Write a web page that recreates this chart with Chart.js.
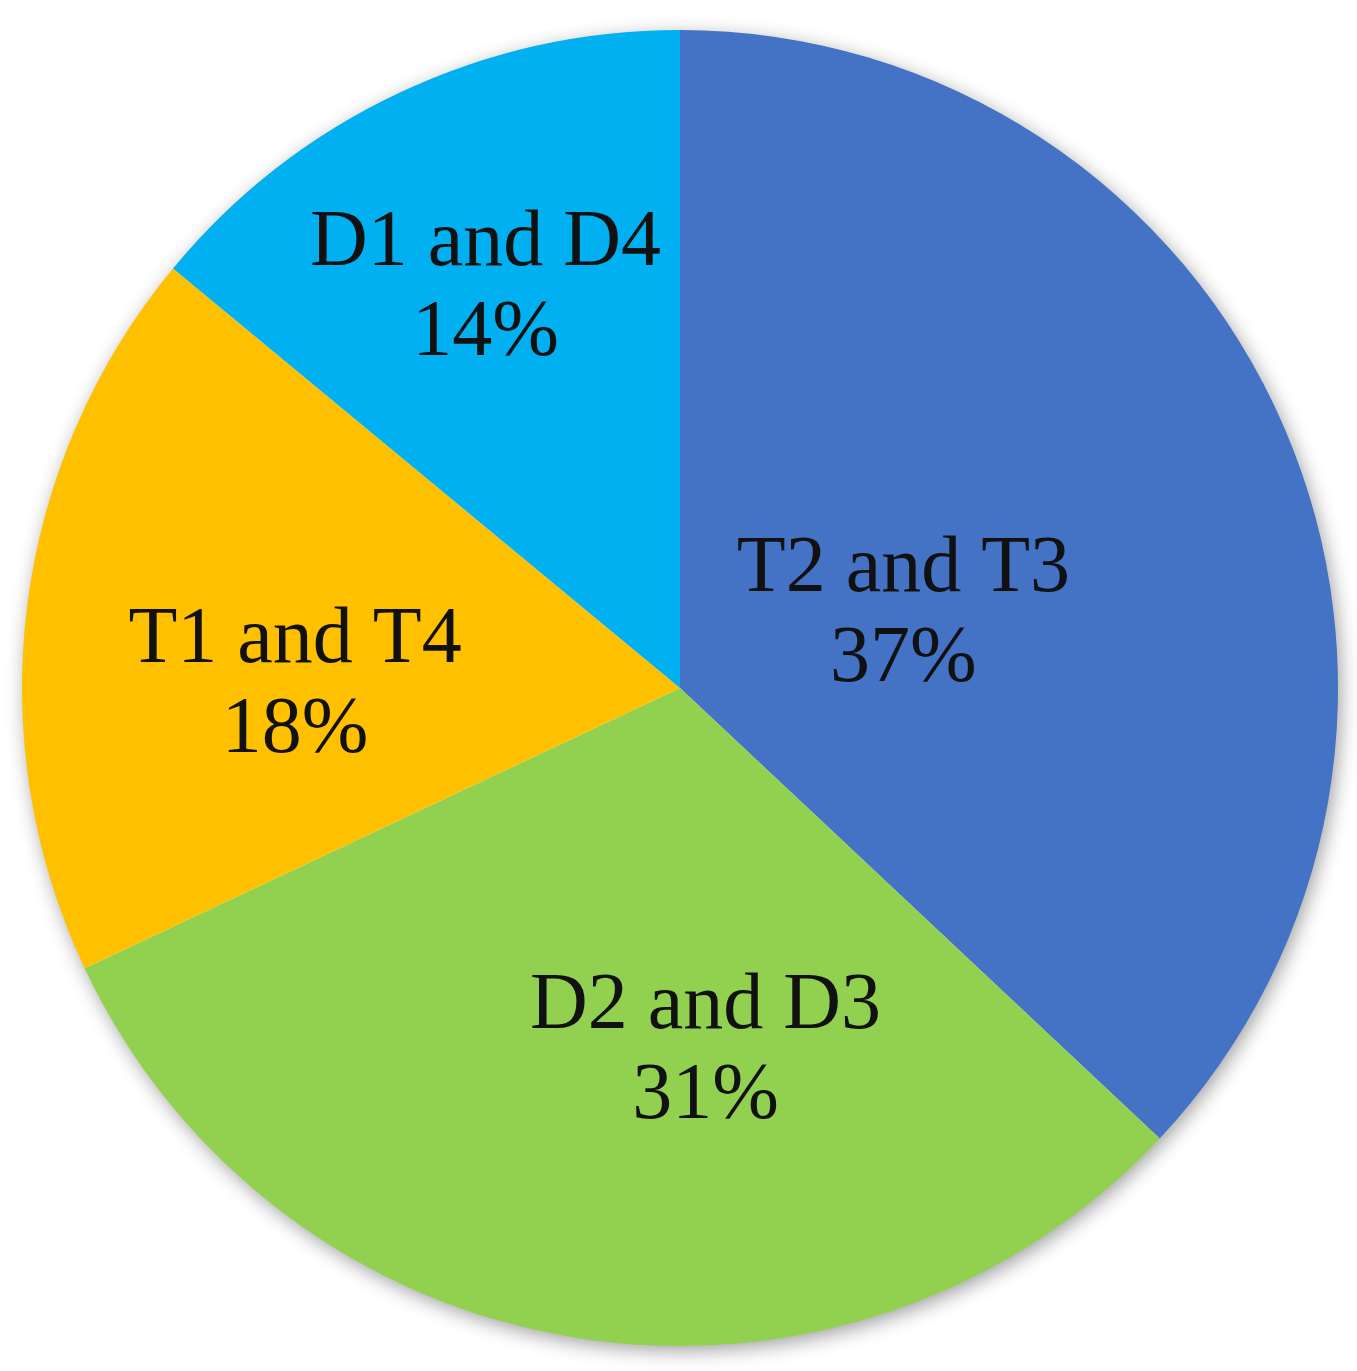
<!DOCTYPE html>
<html>
<head>
<meta charset="utf-8">
<script src="https://cdn.jsdelivr.net/npm/chart.js@4"></script>
<style>
  html, body { margin: 0; padding: 0; background: #fff; }
  #wrap { width: 1357px; height: 1371px; }
</style>
</head>
<body>
<div id="wrap"><canvas id="pie"></canvas></div>
<script>
// --- DATA ---
const categories = ['T2 and T3', 'D2 and D3', 'T1 and T4', 'D1 and D4'];
const shares = [37, 31, 18, 14];
const sliceColors = ['#4472C4', '#92D050', '#FFC000', '#00B0F0'];

// label placement: [angle from 12 o'clock in degrees, fraction of radius]
const labelSpots = [[72, 0.357], [176, 0.555], [270.3, 0.585], [334, 0.674]];

// soft grey shadow behind the whole disc
const discShadow = {
  id: 'discShadow',
  beforeDatasetsDraw(chart) {
    const arc = chart.getDatasetMeta(0).data[0];
    if (!arc) return;
    const ctx = chart.ctx;
    ctx.save();
    ctx.shadowColor = 'rgba(0,0,0,0.4)';
    ctx.shadowBlur = 20;
    ctx.shadowOffsetX = 3;
    ctx.shadowOffsetY = 5;
    ctx.fillStyle = '#fff';
    ctx.beginPath();
    ctx.arc(arc.x, arc.y, arc.outerRadius - 1, 0, Math.PI * 2);
    ctx.fill();
    ctx.restore();
  }
};

// two-line category / percent labels
const sliceLabels = {
  id: 'sliceLabels',
  afterDatasetsDraw(chart) {
    const meta = chart.getDatasetMeta(0);
    const ctx = chart.ctx;
    ctx.save();
    ctx.font = '80px "Liberation Serif", "Times New Roman", serif';
    ctx.fillStyle = '#111';
    ctx.textAlign = 'center';
    ctx.textBaseline = 'middle';
    meta.data.forEach((arc, i) => {
      const [deg, frac] = labelSpots[i];
      const a = deg * Math.PI / 180;
      const r = arc.outerRadius * frac;
      const x = arc.x + r * Math.sin(a);
      const y = arc.y - r * Math.cos(a);
      ctx.fillText(categories[i], x, y - 45);
      ctx.fillText(shares[i] + '%', x, y + 45);
    });
    ctx.restore();
  }
};

new Chart(document.getElementById('pie'), {
  type: 'pie',
  data: {
    labels: categories,
    datasets: [{
      data: shares,
      backgroundColor: sliceColors,
      borderWidth: 0
    }]
  },
  options: {
    responsive: true,
    maintainAspectRatio: false,
    animation: false,
    layout: { padding: { left: 22, right: 19, top: 30, bottom: 25 } },
    plugins: {
      legend: { display: false },
      tooltip: { enabled: false }
    }
  },
  plugins: [discShadow, sliceLabels]
});
</script>
</body>
</html>
